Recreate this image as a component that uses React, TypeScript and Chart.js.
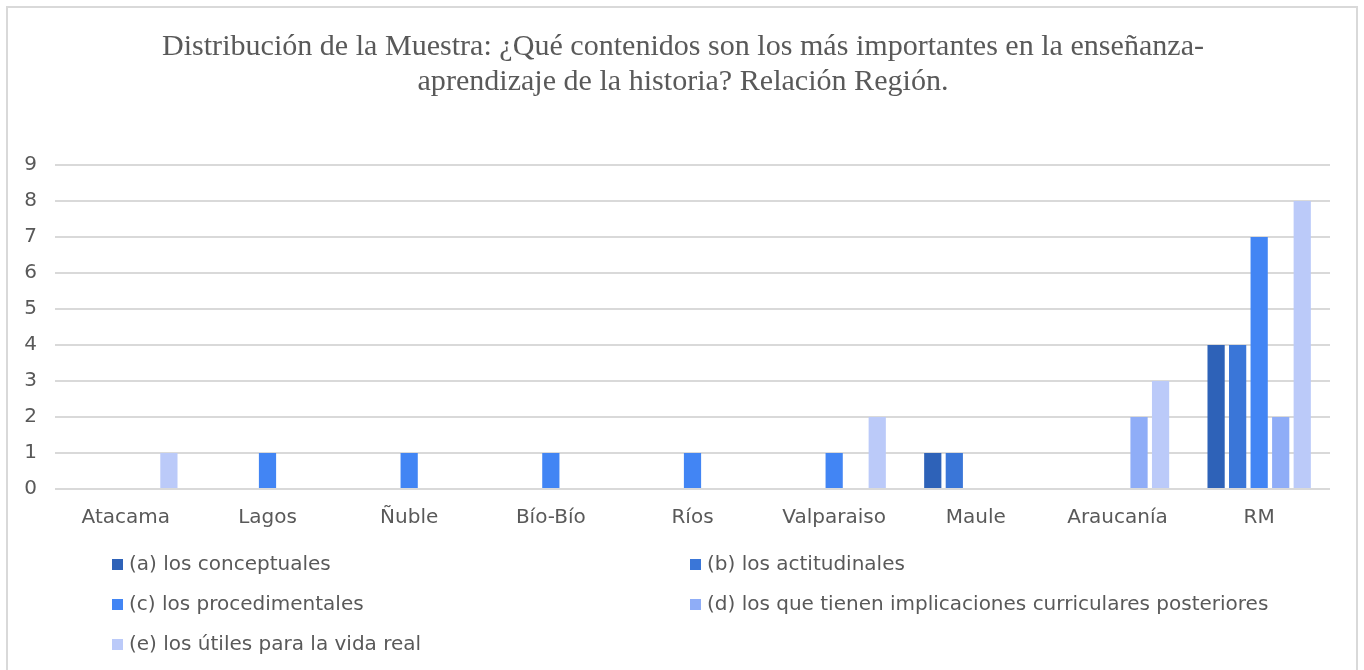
import React, { useEffect, useRef } from "react";
import { Chart, registerables } from "chart.js";

Chart.register(...registerables);

const categories = ["Atacama", "Lagos", "Ñuble", "Bío-Bío", "Ríos", "Valparaiso", "Maule", "Araucanía", "RM"];
const seriesNames = [
  "(a) los conceptuales",
  "(b) los actitudinales",
  "(c) los procedimentales",
  "(d) los que tienen implicaciones curriculares posteriores",
  "(e) los útiles para la vida real",
];
const seriesA = [0, 0, 0, 0, 0, 0, 1, 0, 4];
const seriesB = [0, 0, 0, 0, 0, 0, 1, 0, 4];
const seriesC = [0, 1, 1, 1, 1, 1, 0, 0, 7];
const seriesD = [0, 0, 0, 0, 0, 0, 0, 2, 2];
const seriesE = [1, 0, 0, 0, 0, 2, 0, 3, 8];
const seriesColors = ["#2e62b8", "#3a76d8", "#4285f4", "#8fadf7", "#bbcaf9"];
const yTicks = [0, 1, 2, 3, 4, 5, 6, 7, 8, 9];
const titleLines = [
  "Distribución de la Muestra: ¿Qué contenidos son los más importantes en la enseñanza-",
  "aprendizaje de la historia? Relación Región.",
];

const TEXT = "#595959";
const SANS = '"DejaVu Sans", sans-serif';
const SERIF = '"Times New Roman", "Liberation Serif", Tinos, Times, serif';

const titlePlugin = {
  id: "customTitle",
  afterDraw(chart: any) {
    const ctx = chart.ctx;
    ctx.save();
    ctx.font = "29px " + SERIF;
    ctx.fillStyle = TEXT;
    const w = ctx.measureText(titleLines[0]).width;
    const s = 1042 / w;
    ctx.translate(683, 0);
    ctx.scale(s, 1);
    ctx.textAlign = "center";
    ctx.textBaseline = "alphabetic";
    ctx.fillText(titleLines[0], 0, 55);
    ctx.fillText(titleLines[1], 0, 90);
    ctx.restore();
  },
};

const legendPlugin = {
  id: "customLegend",
  afterDraw(chart: any) {
    const ctx = chart.ctx;
    const pos = [
      [112, 565],
      [690, 565],
      [112, 605],
      [690, 605],
      [112, 645],
    ];
    ctx.save();
    ctx.font = "20px " + SANS;
    ctx.textBaseline = "middle";
    ctx.textAlign = "left";
    chart.data.datasets.forEach((ds: any, i: number) => {
      const [x, cy] = pos[i];
      ctx.fillStyle = ds.backgroundColor;
      ctx.fillRect(x, cy - 6, 11, 11);
      ctx.fillStyle = TEXT;
      ctx.fillText(ds.label, x + 17, cy);
    });
    ctx.restore();
  },
};

export default function App() {
  const ref = useRef<HTMLCanvasElement | null>(null);

  useEffect(() => {
    if (!ref.current) return;
    const allSeries = [seriesA, seriesB, seriesC, seriesD, seriesE];
    const chart = new Chart(ref.current, {
      type: "bar",
      data: {
        labels: categories,
        datasets: allSeries.map((d, i) => ({
          label: seriesNames[i],
          data: d,
          backgroundColor: seriesColors[i],
          borderWidth: 0,
          categoryPercentage: 0.76,
          barPercentage: 0.8,
        })),
      },
      options: {
        responsive: false,
        animation: false,
        layout: { padding: { top: 165, right: 34, bottom: 141, left: 0 } },
        plugins: {
          legend: { display: false },
          title: { display: false },
          tooltip: { enabled: false },
        },
        scales: {
          x: {
            grid: { display: false },
            border: { display: false },
            ticks: { color: TEXT, font: { family: SANS, size: 20 }, padding: 9, maxRotation: 0, autoSkip: false },
            afterFit(scale: any) {
              scale.height = 40;
            },
          },
          y: {
            min: 0,
            max: 9,
            afterBuildTicks(scale: any) {
              scale.ticks = yTicks.map((v) => ({ value: v }));
            },
            grid: { color: "#d9d9d9", lineWidth: 2, drawTicks: false },
            border: { display: false },
            ticks: { color: TEXT, font: { family: SANS, size: 20 }, padding: 18 },
            afterFit(scale: any) {
              scale.width = 55;
            },
          },
        },
      },
      plugins: [titlePlugin, legendPlugin],
    });
    return () => chart.destroy();
  }, []);

  return (
    <div style={{ position: "fixed", left: 0, top: 0, width: 1364, height: 670, overflow: "hidden", background: "#fff" }}>
      <div
        style={{
          position: "absolute",
          left: 6,
          top: 6,
          width: 1352,
          height: 720,
          boxSizing: "border-box",
          border: "2px solid #d9d9d9",
        }}
      />
      <canvas ref={ref} width={1364} height={670} style={{ position: "absolute", left: 0, top: 0 }} />
    </div>
  );
}
